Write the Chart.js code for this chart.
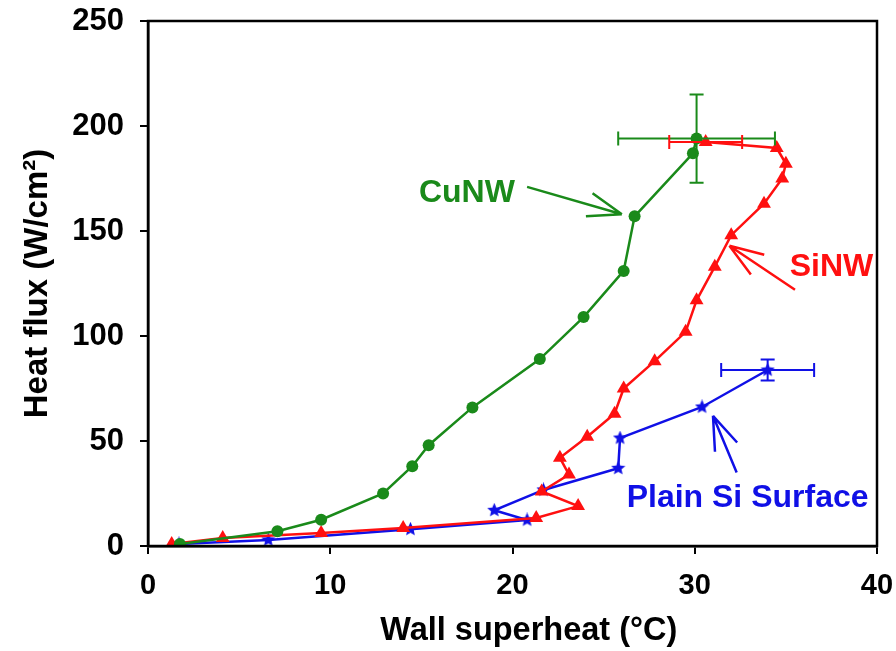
<!DOCTYPE html>
<html>
<head>
<meta charset="utf-8">
<script src="https://cdn.jsdelivr.net/npm/chart.js@4.4.1/dist/chart.umd.min.js"></script>
<style>
  html, body { margin: 0; padding: 0; background: #fff; }
  #wrap { width: 896px; height: 651px; position: relative; }
</style>
</head>
<body>
<div id="wrap"><canvas id="boilingChart" width="896" height="651"></canvas></div>
<script>
// --- data ---
const xTicks = [0, 10, 20, 30, 40];
const yTicks = [0, 50, 100, 150, 200, 250];

const cuX = [1.75, 7.1, 9.5, 12.9, 14.5, 15.4, 17.8, 21.5, 23.9, 26.1, 26.7, 29.9, 30.1];
const cuY = [1, 7, 12.5, 25, 38, 48, 66, 89, 109, 131, 157, 187, 194];

const siX = [1.3, 4.1, 9.5, 14.0, 21.3, 23.6, 21.6, 23.1, 22.6, 24.1, 25.6, 26.1, 27.8, 29.5, 30.1, 31.1, 32.0, 33.8, 34.8, 35.0, 34.5, 30.6];
const siY = [1, 3.8, 6.2, 8.6, 13.3, 19, 26, 34, 42, 52, 63, 75, 88, 102, 117, 133, 148, 163, 175, 182, 189.5, 192.4];

const plainX = [1.7, 6.6, 14.4, 20.8, 19.0, 21.7, 25.8, 25.9, 30.4, 34.0];
const plainY = [1, 2.9, 8, 12.4, 17, 26.7, 37, 51.4, 66.2, 83.8];

// error bars: [x, y, xErr, yErr]
const cuErr = [30.1, 194, 4.3, 21];
const siErr = [30.6, 192.4, 2.0, 0];
const plainErr = [34.0, 83.8, 2.55, 5];

// annotations (data units): label, text pos, arrow tail, arrow tip
const notes = [
  { text: 'CuNW', color: '#1a8a1a', at: [17.5, 168], from: [20.8, 171], to: [26.0, 158] },
  { text: 'SiNW', color: '#ff1010', at: [37.5, 133], from: [35.5, 122], to: [31.9, 143] },
  { text: 'Plain Si Surface', color: '#1010e6', at: [32.9, 23], from: [32.3, 35], to: [31.0, 62] }
];

const GREEN = '#1a8a1a';
const RED = '#ff1010';
const BLUE = '#1010e6';
const FONT = '"Liberation Sans", Arial, sans-serif';

function toPoints(xs, ys) {
  return xs.map((x, i) => ({ x: x, y: ys[i] }));
}

// filled 5-point star for the plain surface markers
function makeStar(size, color) {
  const c = document.createElement('canvas');
  c.width = size; c.height = size;
  const g = c.getContext('2d');
  const r = size / 2, r2 = r * 0.45;
  g.beginPath();
  for (let i = 0; i < 10; i++) {
    const a = -Math.PI / 2 + i * Math.PI / 5;
    const rr = i % 2 === 0 ? r : r2;
    g.lineTo(r + rr * Math.cos(a), r + rr * Math.sin(a));
  }
  g.closePath();
  g.fillStyle = color;
  g.fill();
  return c;
}

// no extra room for overhanging tick labels, the layout padding handles it
function fixPadding(s) {
  s.paddingTop = 0;
  s.paddingBottom = 0;
  s.paddingLeft = 0;
  s.paddingRight = 0;
}

// error bars, the box border and the arrow notes
const extras = {
  id: 'extras',
  afterDatasetsDraw(chart) {
    const ctx = chart.ctx;
    const xs = chart.scales.x, ys = chart.scales.y;
    const area = chart.chartArea;

    const errBar = (e, color) => {
      const px = xs.getPixelForValue(e[0]), py = ys.getPixelForValue(e[1]);
      const x1 = xs.getPixelForValue(e[0] - e[2]), x2 = xs.getPixelForValue(e[0] + e[2]);
      const cap = 7;
      ctx.save();
      ctx.strokeStyle = color;
      ctx.lineWidth = 2;
      ctx.beginPath();
      ctx.moveTo(x1, py); ctx.lineTo(x2, py);
      ctx.moveTo(x1, py - cap); ctx.lineTo(x1, py + cap);
      ctx.moveTo(x2, py - cap); ctx.lineTo(x2, py + cap);
      if (e[3] > 0) {
        const y1 = ys.getPixelForValue(e[1] - e[3]), y2 = ys.getPixelForValue(e[1] + e[3]);
        ctx.moveTo(px, y1); ctx.lineTo(px, y2);
        ctx.moveTo(px - cap, y1); ctx.lineTo(px + cap, y1);
        ctx.moveTo(px - cap, y2); ctx.lineTo(px + cap, y2);
      }
      ctx.stroke();
      ctx.restore();
    };
    errBar(cuErr, GREEN);
    errBar(siErr, RED);
    errBar(plainErr, BLUE);

    // frame on top and right
    ctx.save();
    ctx.strokeStyle = '#000';
    ctx.lineWidth = 2.5;
    ctx.strokeRect(area.left, area.top, area.right - area.left, area.bottom - area.top);
    ctx.restore();

    notes.forEach(n => {
      const tx = xs.getPixelForValue(n.at[0]), ty = ys.getPixelForValue(n.at[1]);
      const ax = xs.getPixelForValue(n.from[0]), ay = ys.getPixelForValue(n.from[1]);
      const bx = xs.getPixelForValue(n.to[0]), by = ys.getPixelForValue(n.to[1]);
      ctx.save();
      ctx.strokeStyle = n.color;
      ctx.fillStyle = n.color;
      ctx.lineWidth = 2.5;
      ctx.beginPath();
      ctx.moveTo(ax, ay); ctx.lineTo(bx, by);
      const ang = Math.atan2(by - ay, bx - ax);
      const len = 36, spread = 0.34;
      ctx.moveTo(bx, by);
      ctx.lineTo(bx - len * Math.cos(ang - spread), by - len * Math.sin(ang - spread));
      ctx.moveTo(bx, by);
      ctx.lineTo(bx - len * Math.cos(ang + spread), by - len * Math.sin(ang + spread));
      ctx.stroke();
      ctx.font = 'bold 32px ' + FONT;
      ctx.textAlign = 'center';
      ctx.textBaseline = 'middle';
      ctx.fillText(n.text, tx, ty);
      ctx.restore();
    });
  }
};

const ctx = document.getElementById('boilingChart').getContext('2d');
new Chart(ctx, {
  type: 'scatter',
  data: {
    datasets: [
      {
        label: 'CuNW',
        data: toPoints(cuX, cuY),
        showLine: true,
        borderColor: GREEN,
        backgroundColor: GREEN,
        borderWidth: 2.5,
        pointStyle: 'circle',
        pointRadius: 6,
        pointBorderWidth: 0
      },
      {
        label: 'SiNW',
        data: toPoints(siX, siY),
        showLine: true,
        borderColor: RED,
        backgroundColor: RED,
        borderWidth: 2.5,
        pointStyle: 'triangle',
        pointRadius: 8,
        pointBorderWidth: 0
      },
      {
        label: 'Plain Si Surface',
        data: toPoints(plainX, plainY),
        showLine: true,
        borderColor: BLUE,
        backgroundColor: BLUE,
        borderWidth: 2.5,
        pointStyle: makeStar(15, BLUE),
        pointRadius: 7
      }
    ]
  },
  plugins: [extras],
  options: {
    responsive: false,
    animation: false,
    layout: { padding: { top: 21, right: 19, bottom: 0, left: 0 } },
    plugins: {
      legend: { display: false },
      tooltip: { enabled: false }
    },
    scales: {
      x: {
        type: 'linear',
        min: 0,
        max: 40,
        afterFit: s => { s.height = 105; fixPadding(s); },
        afterBuildTicks: s => { s.ticks = xTicks.map(v => ({ value: v })); },
        grid: { drawOnChartArea: false, drawTicks: true, tickLength: 8, color: '#000', lineWidth: 2 },
        border: { display: true, color: '#000', width: 2.5 },
        ticks: {
          color: '#000',
          padding: 15,
          font: { family: FONT, size: 29, weight: 'bold' }
        },
        title: {
          display: true,
          text: '\u2003Wall superheat (\u00B0C)',
          color: '#000',
          padding: { top: 0, bottom: 0 },
          font: { family: FONT, size: 32.5, weight: 'bold' }
        }
      },
      y: {
        type: 'linear',
        min: 0,
        max: 250,
        afterFit: s => { s.width = 148; fixPadding(s); },
        afterBuildTicks: s => { s.ticks = yTicks.map(v => ({ value: v })); },
        grid: { drawOnChartArea: false, drawTicks: true, tickLength: 8, color: '#000', lineWidth: 2 },
        border: { display: true, color: '#000', width: 2.5 },
        ticks: {
          color: '#000',
          padding: 16,
          font: { family: FONT, size: 31, weight: 'bold' }
        },
        title: {
          display: true,
          text: 'Heat flux (W/cm\u00B2)',
          color: '#000',
          padding: { top: 18, bottom: 0 },
          font: { family: FONT, size: 33, weight: 'bold' }
        }
      }
    }
  }
});
</script>
</body>
</html>
